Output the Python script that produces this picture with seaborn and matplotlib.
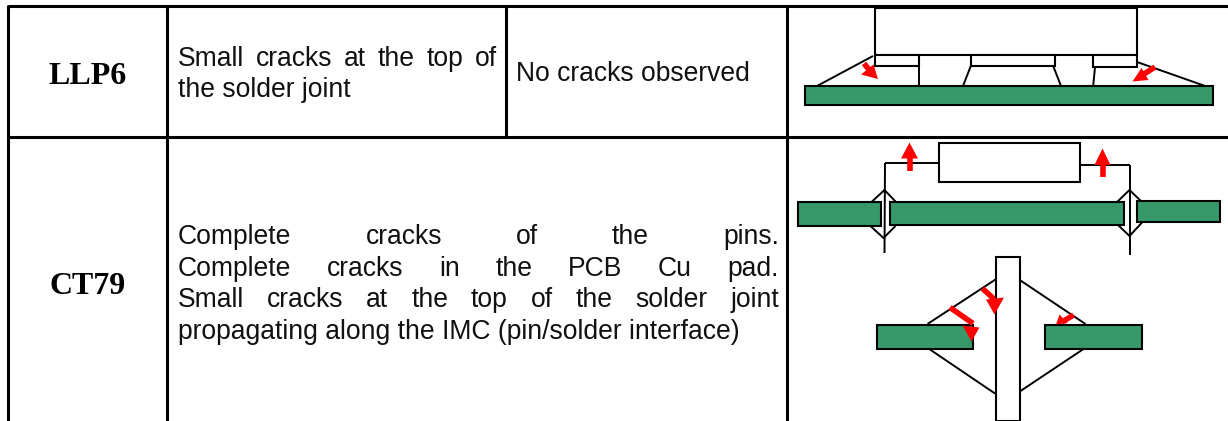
import pandas as pd
import matplotlib
matplotlib.use('Agg')
import matplotlib.pyplot as plt
import seaborn as sns
from matplotlib.patches import Polygon, Rectangle

# table grid, pixel coordinates of the reference (x0, y0, x1, y1)
grid_lines = [
    (8, 6, 1228, 6), (8, 137, 1228, 137),
    (8, 5, 8, 421), (167, 5, 167, 421), (506, 5, 506, 137), (787, 5, 787, 421),
]

# x0, y0, x1, y1
white_boxes = [
    (875, 8, 1137, 55), (875, 55, 919, 65.5), (971, 55, 1055, 65.5), (1093, 55, 1137, 67),
    (938.5, 143, 1079.5, 182), (995.5, 257, 1020, 421),
]
green_boxes = [
    (805, 86, 1212.5, 105), (797.5, 202, 881, 226), (890, 202, 1124, 224.5),
    (1136.5, 200.5, 1219.5, 222), (876.5, 325, 972.5, 348.5), (1045, 324.5, 1141.5, 348.5),
]
wire_paths = [
    [(817, 86), (873, 56)], [(919, 55), (919, 88)], [(971, 65.5), (963, 86)],
    [(1053, 65.5), (1061, 86)], [(1095, 67), (1093, 88)], [(1137, 62), (1208, 87)],
    [(884.5, 163), (938.5, 163)], [(1077, 164.5), (1130, 164.5)],
    [(885, 163), (884.5, 253)], [(1129.5, 164.5), (1129.5, 255)],
    [(871.5, 202), (884.5, 190), (896, 202)], [(871, 226.5), (883.5, 238), (895.5, 226)],
    [(1116, 203), (1129.5, 190), (1143, 203)], [(1118, 225), (1129.5, 236), (1142, 222.5)],
    [(927.5, 324), (995.5, 279.5)], [(928.5, 348.5), (995, 393.5)],
    [(1019, 279.5), (1085.5, 324)], [(1020.5, 391), (1083.5, 349)],
]
arrow_stems = [
    [(864, 63.5), (871, 72)], [(1155, 67), (1144, 74)], [(909.5, 171), (909.5, 156)],
    [(1102.5, 177), (1102.5, 163)], [(950, 307.5), (973, 323.5)],
    [(982.5, 288.5), (994, 299)], [(1073.5, 315), (1062, 322)],
]
arrow_heads = [
    [(861, 74.5), (873.5, 64.5), (878, 79)], [(1148.5, 80), (1141.5, 68), (1132.5, 81.5)],
    [(901, 158.5), (918, 158.5), (909.5, 142.5)], [(1094.5, 165), (1110.5, 165), (1102.5, 148.5)],
    [(962.5, 325.5), (979.5, 327.5), (971.5, 341.5)], [(986, 299.5), (1004, 297.5), (994.5, 314.5)],
    [(1056, 324.5), (1059.5, 314.5), (1067.5, 323)],
]

body_lines = [
    ('Small cracks at the top of', 178, 497, 59, True),
    ('the solder joint', 178, 497, 90, False),
    ('No cracks observed', 516, 750, 74, False),
    ('Complete cracks of the pins.', 178, 779, 237, True),
    ('Complete cracks in the PCB Cu pad.', 178, 779, 269, True),
    ('Small cracks at the top of the solder joint', 178, 779, 300, True),
    ('propagating along the IMC (pin/solder interface)', 178, 779, 332, False),
]
row_names = ['LLP6', 'CT79']
row_name_y = [76, 286]

GREEN = '#37996a'
TEXT_SIZE = 19.1


def segment_table(paths):
    rows = []
    for i, path in enumerate(paths):
        for j, (x, y) in enumerate(path):
            rows.append({'path': i, 'order': j, 'x': x, 'y': y})
    return pd.DataFrame(rows)


def draw_paths(ax, paths, color, lw, zorder):
    sns.lineplot(data=segment_table(paths), x='x', y='y', units='path', estimator=None,
                 sort=False, color=color, linewidth=lw, ax=ax, legend=False, zorder=zorder,
                 solid_capstyle='butt')


def draw_boxes(ax, boxes, face):
    for x0, y0, x1, y1 in boxes:
        ax.add_patch(Rectangle((x0, y0), x1 - x0, y1 - y0, facecolor=face, edgecolor='black',
                               linewidth=1.5, zorder=3))


def justified(ax, text, x0, x1, y):
    # spread the words over the cell width like the justified original
    words = text.split()
    renderer = ax.figure.canvas.get_renderer()
    labels = [ax.text(0, y, w, fontsize=TEXT_SIZE, va='center', ha='left', color='#111111')
              for w in words]
    widths = [t.get_window_extent(renderer).width for t in labels]
    gap = (x1 - x0 - sum(widths)) / (len(words) - 1)
    x = x0
    for t, w in zip(labels, widths):
        t.set_x(x)
        x += w + gap


sns.set_theme(style='white')
plt.rcParams['font.family'] = ['Liberation Sans', 'DejaVu Sans']

fig = plt.figure(figsize=(12.28, 4.21), dpi=100)
ax = fig.add_axes([0, 0, 1, 1])

draw_paths(ax, [[(a, b), (c, d)] for a, b, c, d in grid_lines], 'black', 2.2, 1)
draw_paths(ax, wire_paths, 'black', 1.4, 2)
draw_boxes(ax, white_boxes, 'white')
draw_boxes(ax, green_boxes, GREEN)
draw_paths(ax, arrow_stems, 'red', 4, 4)
for head in arrow_heads:
    ax.add_patch(Polygon(head, closed=True, facecolor='red', edgecolor='none', zorder=4))

ax.set_xlim(0, 1228)
ax.set_ylim(421, 0)
ax.set_xlabel('')
ax.set_ylabel('')
ax.axis('off')

for name, y in zip(row_names, row_name_y):
    ax.text(88, y, name, family=['Liberation Serif'], fontsize=23, fontweight='bold',
            ha='center', va='center', color='black')

for text, x0, x1, y, is_justified in body_lines:
    if is_justified:
        justified(ax, text, x0, x1, y)
    else:
        ax.text(x0, y, text, fontsize=TEXT_SIZE, ha='left', va='center', color='#111111')

fig.savefig('out.png', dpi=100)
plt.close(fig)
